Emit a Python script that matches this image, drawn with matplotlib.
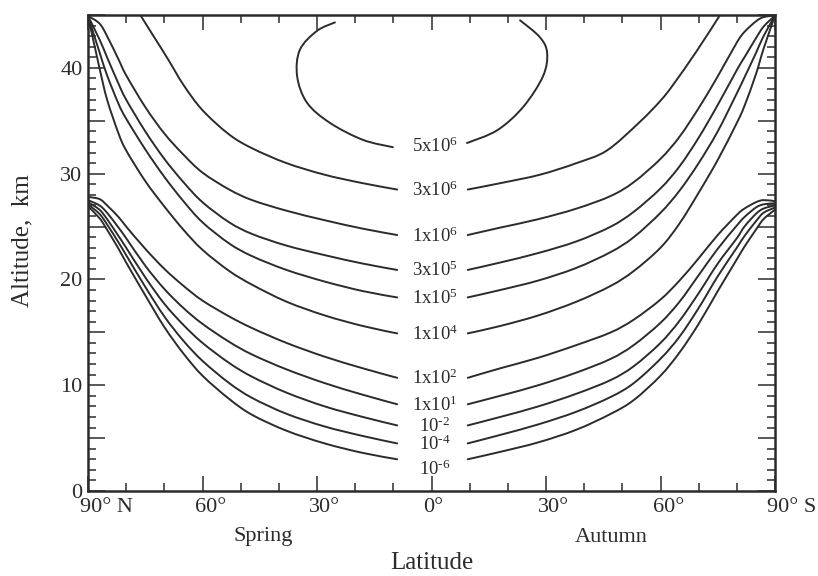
import matplotlib
matplotlib.use("Agg")
import matplotlib.pyplot as plt
import matplotlib.transforms as mtransforms
from matplotlib.path import Path
from matplotlib.patches import PathPatch
from matplotlib.ticker import FixedLocator, MultipleLocator, FuncFormatter

plt.rcParams['font.family'] = ['Liberation Serif', 'DejaVu Serif']
plt.rcParams['mathtext.fontset'] = 'custom'
plt.rcParams['mathtext.rm'] = 'Liberation Serif'
plt.rcParams['mathtext.it'] = 'Liberation Serif:italic'

INK = '#2b2b2b'

# latitude grids (deg, + = north) shared by the full-width contours
lat_left = [90, 87, 85, 82, 80, 75, 70, 65, 60, 53, 47, 38, 28, 18, 9]
lat_right = [-9.5, -18, -28, -38, -47, -53, -60, -65, -70, -75, -80, -82, -85, -87, -90]

# altitude (km) of each contour
c1e6_left = [44.9, 44.2, 43.0, 40.8, 39.3, 36.3, 33.8, 31.8, 30.1, 28.5, 27.5, 26.5, 25.6, 24.8, 24.2]
c1e6_right = [24.2, 24.9, 25.7, 26.7, 27.9, 29.2, 31.4, 33.5, 36.2, 39.2, 42.4, 43.4, 44.4, 44.8, 44.95]
c3e5_left = [44.9, 42.7, 41.0, 38.5, 37.0, 34.0, 31.4, 29.2, 27.3, 25.4, 24.3, 23.2, 22.3, 21.5, 20.9]
c3e5_right = [20.9, 21.6, 22.5, 23.6, 25.0, 26.4, 28.6, 30.7, 33.4, 36.5, 39.8, 41.0, 42.8, 43.9, 44.95]
c1e5_left = [44.9, 41.5, 39.3, 36.6, 35.2, 32.3, 29.7, 27.4, 25.4, 23.4, 22.2, 20.9, 19.8, 18.9, 18.3]
c1e5_right = [18.3, 19.0, 19.9, 21.1, 22.6, 24.0, 26.3, 28.4, 31.0, 34.0, 37.6, 39.1, 41.4, 43.0, 44.95]
c1e4_left = [44.9, 40.0, 37.0, 33.8, 32.2, 29.3, 26.9, 24.7, 22.8, 20.8, 19.5, 17.9, 16.6, 15.6, 14.9]
c1e4_right = [14.9, 15.6, 16.6, 17.9, 19.4, 20.8, 23.0, 25.3, 28.2, 31.3, 34.8, 36.4, 39.4, 41.8, 44.95]
c1e2_left = [27.8, 27.6, 27.0, 25.9, 25.0, 22.9, 21.0, 19.4, 18.0, 16.5, 15.4, 14.0, 12.7, 11.6, 10.7]
c1e2_right = [10.7, 11.6, 12.6, 13.8, 15.0, 16.2, 18.1, 19.9, 22.0, 24.2, 26.1, 26.7, 27.3, 27.5, 27.4]
c1e1_left = [27.5, 27.0, 26.3, 24.9, 23.9, 21.3, 19.1, 17.3, 15.8, 14.1, 12.9, 11.5, 10.2, 9.1, 8.2]
c1e1_right = [8.2, 9.0, 10.0, 11.2, 12.5, 13.8, 15.9, 17.9, 20.4, 22.9, 25.1, 25.9, 26.8, 27.1, 27.2]
c1em2_left = [27.3, 26.6, 25.7, 24.1, 23.0, 20.2, 17.7, 15.7, 14.0, 12.1, 10.8, 9.3, 8.0, 7.0, 6.2]
c1em2_right = [6.2, 7.0, 8.0, 9.2, 10.5, 11.8, 14.0, 16.1, 18.7, 21.5, 23.9, 25.0, 26.2, 26.7, 27.0]
c1em4_left = [27.1, 26.2, 25.2, 23.5, 22.3, 19.3, 16.5, 14.2, 12.3, 10.2, 8.8, 7.3, 6.1, 5.2, 4.5]
c1em4_right = [4.5, 5.3, 6.3, 7.5, 8.9, 10.2, 12.5, 14.6, 17.3, 20.3, 23.0, 24.1, 25.5, 26.3, 26.8]
c1em6_left = [26.9, 25.8, 24.7, 22.9, 21.6, 18.5, 15.5, 13.0, 10.9, 8.7, 7.2, 5.7, 4.5, 3.6, 3.0]
c1em6_right = [3.0, 3.7, 4.6, 5.8, 7.3, 8.6, 10.9, 13.1, 15.8, 18.9, 21.9, 23.1, 24.7, 25.7, 26.6]

# 3x10^6 runs into the top of the plot
c3e6_left_lat = [77, 73, 69, 65, 60, 53, 47, 38, 28, 18, 9]
c3e6_left_alt = [45.4, 43.1, 40.8, 38.4, 36.0, 33.7, 32.4, 31.0, 29.9, 29.1, 28.5]
c3e6_right_lat = [-9.5, -18, -28.4, -38, -46, -54.6, -60, -63.3, -69.5, -75.6]
c3e6_right_alt = [28.5, 29.1, 29.9, 31.0, 32.2, 34.9, 36.9, 38.4, 41.6, 45.0]

# 5x10^6 closed cell near the top
c5e6_left_lat = [25.3, 30.0, 34.5, 35.2, 32.6, 26.6, 18, 10.1]
c5e6_left_alt = [44.3, 43.5, 41.7, 39.2, 36.7, 34.8, 33.2, 32.5]
c5e6_right_lat = [-9.3, -17.2, -24, -29.2, -30.3, -28.4, -23.2]
c5e6_right_alt = [32.9, 34.1, 36.3, 39.2, 41.4, 42.9, 44.5]

level_labels = ['5x10$^{6}$', '3x10$^{6}$', '1x10$^{6}$', '3x10$^{5}$', '1x10$^{5}$',
                '1x10$^{4}$', '1x10$^{2}$', '1x10$^{1}$', '10$^{\u2010 2}$', '10$^{\u2010 4}$',
                '10$^{\u2010 6}$']

xtick_pos = [90, 60, 30, 0, -30, -60, -90]
xtick_text = ['90° N', '60°', '30°', '0°', '30°', '60°', '90° S']

contours = [
    (c5e6_left_lat, c5e6_left_alt, c5e6_right_lat, c5e6_right_alt),
    (c3e6_left_lat, c3e6_left_alt, c3e6_right_lat, c3e6_right_alt),
    (lat_left, c1e6_left, lat_right, c1e6_right),
    (lat_left, c3e5_left, lat_right, c3e5_right),
    (lat_left, c1e5_left, lat_right, c1e5_right),
    (lat_left, c1e4_left, lat_right, c1e4_right),
    (lat_left, c1e2_left, lat_right, c1e2_right),
    (lat_left, c1e1_left, lat_right, c1e1_right),
    (lat_left, c1em2_left, lat_right, c1em2_right),
    (lat_left, c1em4_left, lat_right, c1em4_right),
    (lat_left, c1em6_left, lat_right, c1em6_right),
]


def smooth_path(xs, ys):
    # Catmull-Rom through the read points, drawn as cubic Bezier pieces
    pts = list(zip(xs, ys))
    verts = [pts[0]]
    codes = [Path.MOVETO]
    n = len(pts)
    for i in range(n - 1):
        p0 = pts[i - 1] if i > 0 else pts[i]
        p1 = pts[i]
        p2 = pts[i + 1]
        p3 = pts[i + 2] if i + 2 < n else pts[i + 1]
        c1 = (p1[0] + (p2[0] - p0[0]) / 6, p1[1] + (p2[1] - p0[1]) / 6)
        c2 = (p2[0] - (p3[0] - p1[0]) / 6, p2[1] - (p3[1] - p1[1]) / 6)
        verts += [c1, c2, p2]
        codes += [Path.CURVE4] * 3
    return Path(verts, codes)


fig = plt.figure(figsize=(8.18, 5.76), dpi=100)
ax = fig.add_axes([88 / 818, 1 - 491 / 576, 687 / 818, 476 / 576])

for (llat, lalt, rlat, ralt), lab in zip(contours, level_labels):
    for xs, ys in ((llat, lalt), (rlat, ralt)):
        ax.add_patch(PathPatch(smooth_path(xs, ys), facecolor='none', edgecolor=INK,
                               lw=1.4, capstyle='round'))
    y_lab = (lalt[-1] + ralt[0]) / 2 - 0.62
    if lab.endswith('6}$') and lab.startswith('10'):
        y_lab -= 0.9
    ax.text(-0.9, y_lab, lab, ha='center', va='baseline', fontsize=13.5, color=INK)

ax.set_xlim(90, -90)
ax.set_ylim(0, 45)

# x ticks
ax.xaxis.set_major_locator(MultipleLocator(30))
ax.xaxis.set_minor_locator(MultipleLocator(10))
ax.tick_params(axis='x', which='both', direction='in', top=True, bottom=True,
               labelbottom=False, color=INK, width=1.1)
ax.tick_params(axis='x', which='major', length=11)
ax.tick_params(axis='x', which='minor', length=6)

# y ticks
ax.yaxis.set_major_locator(FixedLocator(list(range(0, 46, 5))))
ax.yaxis.set_minor_locator(MultipleLocator(1))
ax.yaxis.set_major_formatter(FuncFormatter(lambda v, p: f"{int(v)}" if int(v) % 10 == 0 and v < 45 else ""))
ax.tick_params(axis='y', which='both', direction='in', left=True, right=True,
               color=INK, width=1.1, labelsize=16, labelcolor=INK, pad=4)
ax.tick_params(axis='y', which='major', length=12)
ax.tick_params(axis='y', which='minor', length=5.5)

for sp in ax.spines.values():
    sp.set_linewidth(1.8)
    sp.set_color(INK)

# latitude labels
trans = mtransforms.blended_transform_factory(ax.transData, ax.transAxes)
trans = mtransforms.offset_copy(trans, fig=fig, x=-8, y=-7, units='dots')
for pos, txt in zip(xtick_pos, xtick_text):
    ax.text(pos, 0, txt, transform=trans, ha='left', va='top', fontsize=16, color=INK)

fig.text(263 / 818, 1 - 537 / 576, 'Spring', ha='center', va='center', fontsize=16, color=INK)
fig.text(611 / 818, 1 - 537 / 576, 'Autumn', ha='center', va='center', fontsize=16, color=INK)
fig.text(432 / 818, 1 - 563 / 576, 'Latitude', ha='center', va='center', fontsize=18, color=INK)
fig.text(22 / 818, 1 - 241 / 576, 'Altitude,  km', ha='center', va='center', rotation=90,
         fontsize=18, color=INK)

fig.savefig('out.png', dpi=100)
